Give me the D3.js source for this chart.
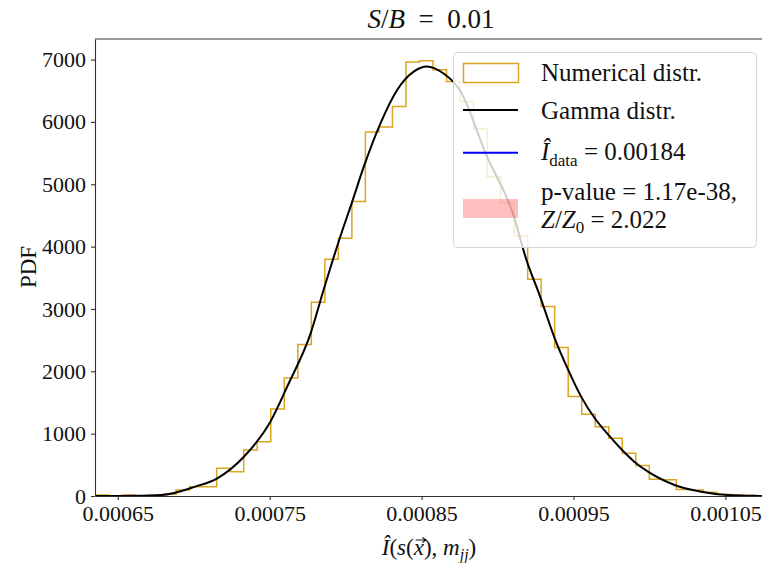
<!DOCTYPE html>
<html lang="en">
<head>
<meta charset="UTF-8">
<title>S/B = 0.01 PDF</title>
<script src="https://d3js.org/d3.v7.min.js"></script>
<style>
  body { margin: 0; background: #fff; }
  svg text { font-family: "Liberation Serif", "DejaVu Serif", serif; fill: #111; }
  .axis path, .axis line { stroke: #333; stroke-width: 1.1; }
  .axis text { font-size: 22px; }
</style>
</head>
<body>
<div id="chart"></div>
<script>
// histogram of the numerical distribution (density), 50 equal bins
const histLo = 0.000635;
const histHi = 0.00108;
const histCounts = [
  15, 0, 15, 0, 0, 27, 96, 150, 150, 445,
  390, 738, 872, 1396, 1894, 2429, 3109, 3799, 4136, 4724,
  5838, 5918, 6249, 6961, 6982, 6838, 6650, 6329, 5886, 5116,
  4698, 4173, 3478, 3039, 2381, 1594, 1311, 1112, 926, 685,
  490, 270, 260, 105, 95, 62, 25, 15, 8, 0
];

// gamma fit
const gammaX = [
  0.000635, 0.000652, 0.000679, 0.000701, 0.0007155, 0.000733, 0.0007505, 0.000762,
  0.000777, 0.0007855, 0.0007965, 0.000804, 0.000812, 0.000823, 0.000834, 0.000845,
  0.0008535, 0.000864, 0.000875, 0.000893, 0.00091, 0.000919, 0.000928, 0.000938,
  0.0009465, 0.000955, 0.000964, 0.000973, 0.000982, 0.00099, 0.000999, 0.0010165,
  0.001034, 0.0010515, 0.00107, 0.00108
];
const gammaY = [
  0, 0, 16, 150, 284, 630, 1193, 1780,
  2612, 3307, 4162, 4698, 5286, 5982, 6517, 6811,
  6890, 6785, 6517, 5446, 4538, 3788, 3199, 2504,
  2022, 1594, 1247, 979, 738, 551, 390, 177,
  69, 16, 2, 0
];

const xTicks = [0.00065, 0.00075, 0.00085, 0.00095, 0.00105];
const yTicks = [0, 1000, 2000, 3000, 4000, 5000, 6000, 7000];

const W = 762, H = 563;
const plotL = 95, plotR = 771, plotT = 39, plotB = 496;

const svg = d3.select("#chart").append("svg")
  .attr("width", W)
  .attr("height", H);

const x = d3.scaleLinear().domain([histLo, histHi]).range([plotL, plotR]);
const y = d3.scaleLinear().domain([0, 7330]).range([plotB, plotT]);

svg.append("clipPath").attr("id", "plot-clip")
  .append("rect")
  .attr("x", plotL).attr("y", plotT)
  .attr("width", plotR - plotL).attr("height", plotB - plotT);

const plot = svg.append("g").attr("clip-path", "url(#plot-clip)");

// step outline of the histogram
const binW = (histHi - histLo) / histCounts.length;
const stepPts = [[histLo, 0]];
histCounts.forEach((c, i) => {
  stepPts.push([histLo + i * binW, c]);
  stepPts.push([histLo + (i + 1) * binW, c]);
});
stepPts.push([histHi, 0]);

plot.append("path")
  .datum(stepPts)
  .attr("fill", "none")
  .attr("stroke", "#DAA520")
  .attr("stroke-width", 1.5)
  .attr("d", d3.line().x(d => x(d[0])).y(d => y(d[1])));

// gamma curve
plot.append("path")
  .datum(gammaX.map((v, i) => [v, gammaY[i]]))
  .attr("fill", "none")
  .attr("stroke", "#000")
  .attr("stroke-width", 2)
  .attr("d", d3.line().curve(d3.curveMonotoneX).x(d => x(d[0])).y(d => y(d[1])));

// axes
svg.append("g")
  .attr("class", "axis")
  .attr("transform", `translate(0,${plotB})`)
  .call(d3.axisBottom(x).tickValues(xTicks).tickFormat(d3.format(".5f")).tickSize(4).tickSizeOuter(0).tickPadding(5));

svg.append("g")
  .attr("class", "axis")
  .attr("transform", `translate(${plotL},0)`)
  .call(d3.axisLeft(y).tickValues(yTicks).tickFormat(d3.format("d")).tickSize(4).tickSizeOuter(0).tickPadding(5));

// top spine
svg.append("line")
  .attr("x1", plotL).attr("x2", plotR)
  .attr("y1", plotT).attr("y2", plotT)
  .attr("stroke", "#333").attr("stroke-width", 1.1);

// title
const title = svg.append("text")
  .attr("x", 431).attr("y", 28)
  .attr("text-anchor", "middle")
  .style("font-size", "27px");
title.append("tspan").style("font-style", "italic").text("S");
title.append("tspan").text("/");
title.append("tspan").style("font-style", "italic").text("B");
title.append("tspan").text("\u2002=\u20020.01");

// axis labels
svg.append("text")
  .attr("transform", "translate(36,267) rotate(-90)")
  .attr("text-anchor", "middle")
  .style("font-size", "23px")
  .text("PDF");

const xl = svg.append("text")
  .attr("x", 429).attr("y", 555)
  .attr("text-anchor", "middle")
  .style("font-size", "23px");
xl.append("tspan").style("font-style", "italic").text("Î");
xl.append("tspan").text("(");
xl.append("tspan").style("font-style", "italic").text("s");
xl.append("tspan").text("(");
xl.append("tspan").style("font-style", "italic").text("x");
xl.append("tspan").text("), ");
xl.append("tspan").style("font-style", "italic").text("m");
xl.append("tspan").attr("dy", 5).style("font-size", "16px").style("font-style", "italic").text("jj");
xl.append("tspan").attr("dy", -5).text(")");

// vector arrow over the x
const xBox = xl.node().getExtentOfChar(4);
const ax0 = xBox.x + 2, ax1 = xBox.x + xBox.width + 2, ay = 555 - 15;
svg.append("path")
  .attr("d", `M${ax0},${ay}L${ax1},${ay}M${ax1 - 3.5},${ay - 2.5}L${ax1},${ay}L${ax1 - 3.5},${ay + 2.5}`)
  .attr("fill", "none")
  .attr("stroke", "#111")
  .attr("stroke-width", 1.1);

// legend
const lg = svg.append("g");
lg.append("rect")
  .attr("x", 453.5).attr("y", 52.5)
  .attr("width", 303).attr("height", 195)
  .attr("rx", 4)
  .attr("fill", "#fff").attr("fill-opacity", 0.8)
  .attr("stroke", "#d6d6d6");

const hx = 463, hw = 55, tx = 541;

lg.append("rect")
  .attr("x", hx + 0.5).attr("y", 63.5).attr("width", hw).attr("height", 19)
  .attr("fill", "none").attr("stroke", "#DAA520").attr("stroke-width", 1.5);
lg.append("text").attr("x", tx).attr("y", 81).style("font-size", "25px").text("Numerical distr.");

lg.append("line")
  .attr("x1", hx).attr("x2", hx + hw).attr("y1", 110).attr("y2", 110)
  .attr("stroke", "#000").attr("stroke-width", 2);
lg.append("text").attr("x", tx).attr("y", 119).style("font-size", "25px").text("Gamma distr.");

lg.append("line")
  .attr("x1", hx).attr("x2", hx + hw).attr("y1", 152.7).attr("y2", 152.7)
  .attr("stroke", "#0000ff").attr("stroke-width", 2);
const t3 = lg.append("text").attr("x", tx).attr("y", 160).style("font-size", "25px");
t3.append("tspan").style("font-style", "italic").text("Î");
t3.append("tspan").attr("dy", 6).style("font-size", "17px").text("data");
t3.append("tspan").attr("dy", -6).text(" = 0.00184");

lg.append("rect")
  .attr("x", hx).attr("y", 199).attr("width", hw).attr("height", 19)
  .attr("fill", "#ff0000").attr("fill-opacity", 0.25);
lg.append("text").attr("x", tx).attr("y", 200).style("font-size", "25px").text("p-value = 1.17e-38,");
const t5 = lg.append("text").attr("x", tx).attr("y", 228).style("font-size", "25px");
t5.append("tspan").style("font-style", "italic").text("Z");
t5.append("tspan").text("/");
t5.append("tspan").style("font-style", "italic").text("Z");
t5.append("tspan").attr("dy", 5).style("font-size", "17px").text("0");
t5.append("tspan").attr("dy", -5).text(" = 2.022");
</script>
</body>
</html>
